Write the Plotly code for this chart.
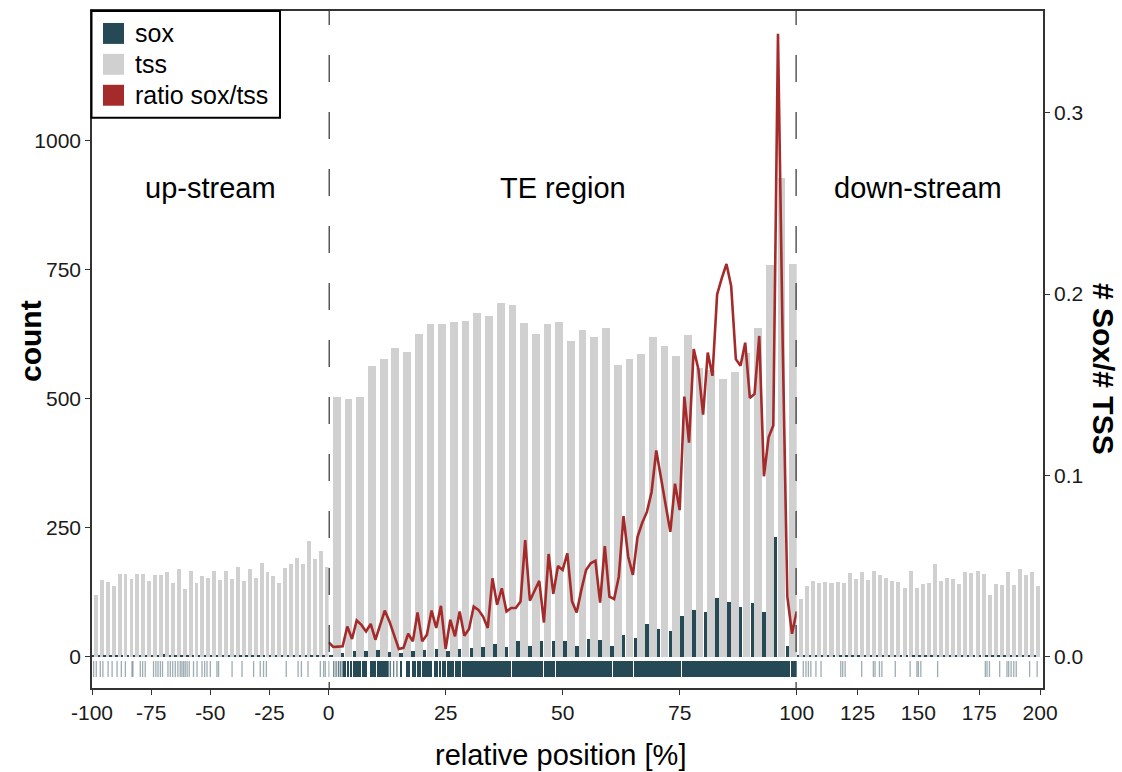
import plotly.graph_objects as go

# ---------------- data ----------------
bin_width = 2.5
up_start = [-100 + 2.5 * k for k in range(40)]
te_start = [0 + 2.5 * k for k in range(40)]
down_start = [100 + 2.5 * k for k in range(40)]

up_tss = [120, 149, 144, 136, 160, 161, 150, 160, 161, 147, 158, 158, 163, 142, 170, 131, 166, 142, 157, 152,
          166, 148, 165, 150, 173, 147, 169, 152, 182, 164, 157, 142, 171, 179, 192, 179, 224, 189, 205, 173]
up_sox = [2, 2, 3, 2, 2, 3, 2, 3, 2, 2, 3, 4, 5, 3, 4, 3, 3, 2, 3, 4,
          3, 4, 2, 2, 2, 2, 2, 2, 2, 2, 2, 2, 3, 2, 2, 2, 2, 2, 2, 3]

te_tss = [504, 499, 504, 564, 577, 598, 590, 625, 645, 644, 648, 651, 666, 660, 686, 681, 646, 625, 645, 648,
          611, 633, 620, 636, 566, 577, 587, 620, 601, 583, 623, 560, 555, 538, 551, 589, 637, 759, 927, 760]
te_sox = [4, 7, 10, 10, 13, 8, 7, 10, 13, 15, 10, 15, 17, 19, 25, 19, 30, 20, 31, 31,
          30, 21, 35, 32, 21, 41, 36, 64, 53, 49, 78, 91, 86, 113, 105, 96, 104, 86, 232, 20]

down_tss = [112, 137, 146, 142, 144, 143, 144, 143, 162, 151, 164, 149, 166, 158, 153, 146, 145, 133, 165, 132,
            140, 143, 179, 147, 153, 151, 140, 164, 162, 166, 160, 120, 140, 138, 164, 138, 169, 158, 163, 136]
down_sox = [3, 2, 2, 2, 2, 2, 3, 2, 2, 2, 3, 2, 3, 2, 2, 2, 2, 2, 3, 2,
            2, 2, 2, 2, 2, 2, 2, 2, 2, 3, 2, 2, 3, 2, 2, 2, 2, 2, 2, 2]

ratio_pos = list(range(0, 101))
ratio = [0.0079, 0.0053, 0.0055, 0.0057, 0.0166, 0.0097, 0.0199, 0.0175, 0.0139, 0.0180,
         0.0093, 0.0170, 0.0254, 0.0194, 0.0121, 0.0042, 0.0048, 0.0126, 0.0084, 0.0243,
         0.0084, 0.0121, 0.0254, 0.0158, 0.0280, 0.0042, 0.0203, 0.0112, 0.0249, 0.0115,
         0.0152, 0.0276, 0.0258, 0.0221, 0.0158, 0.0432, 0.0286, 0.0377, 0.0249, 0.0268,
         0.0268, 0.0304, 0.0643, 0.0308, 0.0363, 0.0418, 0.0188, 0.0566, 0.0346, 0.0500,
         0.0478, 0.0570, 0.0304, 0.0243, 0.0368, 0.0478, 0.0515, 0.0529, 0.0298, 0.0610,
         0.0331, 0.0317, 0.0441, 0.0775, 0.0551, 0.0451, 0.0661, 0.0738, 0.0798, 0.0908,
         0.1137, 0.0991, 0.0826, 0.0688, 0.0954, 0.0808, 0.1434, 0.1180, 0.1696, 0.1586,
         0.1335, 0.1677, 0.1549, 0.1998, 0.2088, 0.2166, 0.2044, 0.1641, 0.1604, 0.1732,
         0.1427, 0.1449, 0.1769, 0.0995, 0.1210, 0.1275, 0.3436, 0.1740, 0.0331, 0.0126,
         0.0249]

# rug (positions of individual sites, relative position %)
rug_up = [-99.3, -98.2, -96.5, -95.4, -93.2, -91.5, -89.4, -87.6, -85.9, -83.1, -82.7, -79.6, -78.6, -77.5,
          -74.0, -73.0, -72.1, -71.1, -70.2, -67.9, -66.9, -65.9, -64.8, -63.7, -62.7, -62.0, -61.3, -60.6,
          -59.8, -58.9, -57.1, -55.6, -53.5, -52.4, -51.4, -50.0, -47.2, -46.5, -40.8, -36.6, -31.7, -28.9,
          -27.5, -26.3, -17.9, -12.9, -11.5, -8.7, -3.5, -2.1, -1.4]
rug_down = [102.7, 103.8, 104.8, 105.8, 107.9, 110.0, 118.1, 118.9, 119.9, 126.7, 131.5, 132.2, 134.0, 135.0,
            140.5, 146.6, 149.4, 150.0, 151.0, 157.9, 177.5, 178.2, 179.2, 183.4, 186.4, 187.1, 188.1, 189.2,
            190.2, 195.7, 198.8]
rug_te_lines = [0.0, 1.1, 1.6, 2.1, 2.5, 2.9, 12.8, 13.2, 13.9, 14.6]
rug_te_block_start = [3.2, 3.9, 4.6, 5.2, 7.1, 8.9, 9.6, 10.3, 15.3, 16.4, 17.8, 18.9, 19.9, 22.4, 23.5, 24.2,
                      25.3, 27.0, 28.5, 39.0, 45.9, 48.4, 60.6, 65.1, 75.5, 98.7]
rug_te_block_end = [3.6, 4.3, 5.0, 6.8, 8.2, 9.3, 10.0, 12.5, 15.7, 17.4, 18.5, 19.6, 22.1, 23.2, 23.8, 24.9,
                    26.7, 28.1, 38.8, 45.7, 48.2, 60.4, 64.9, 75.3, 98.5, 100.0]

# ---------------- styling ----------------
SOX = "#264a55"
TSS = "#d0d0d0"
RED = "#a52a2a"
AX = "#333333"
FONT = "Liberation Sans, Arial, sans-serif"
RUG_TOP, RUG_BOTTOM = -8.7, -39.6
TICK_FONT = dict(size=21, color="#1a1a1a", family=FONT)

fig = go.Figure()


def add_region(starts, tss, sox, xa):
    fig.add_trace(go.Bar(x=[s + 0.67 * bin_width for s in starts], y=tss, width=0.66 * bin_width,
                         marker=dict(color=TSS, line=dict(width=0)), xaxis=xa, yaxis="y", name="tss"))
    fig.add_trace(go.Bar(x=[s + 0.17 * bin_width for s in starts], y=sox, width=0.30 * bin_width,
                         marker=dict(color=SOX, line=dict(width=0)), xaxis=xa, yaxis="y", name="sox"))


add_region(up_start, up_tss, up_sox, "x")
add_region(te_start, te_tss, te_sox, "x2")
add_region(down_start, down_tss, down_sox, "x3")


def rug_lines(pos, xa, color, width):
    xs, ys = [], []
    for p in pos:
        xs += [p, p, None]
        ys += [RUG_TOP, RUG_BOTTOM, None]
    fig.add_trace(go.Scatter(x=xs, y=ys, mode="lines", line=dict(color=color, width=width),
                             xaxis=xa, yaxis="y", hoverinfo="skip"))


rug_lines(rug_up, "x", "rgba(38,74,85,0.45)", 1.3)
rug_lines(rug_down, "x3", "rgba(38,74,85,0.45)", 1.3)
rug_lines(rug_te_lines, "x2", "rgba(38,74,85,0.7)", 1.3)
fig.add_trace(go.Bar(
    x=[(a + b) / 2 for a, b in zip(rug_te_block_start, rug_te_block_end)],
    y=[RUG_TOP - RUG_BOTTOM] * len(rug_te_block_start),
    base=RUG_BOTTOM,
    width=[b - a for a, b in zip(rug_te_block_start, rug_te_block_end)],
    marker=dict(color=SOX, line=dict(width=0)), xaxis="x2", yaxis="y"))

fig.add_trace(go.Scatter(x=ratio_pos, y=ratio, mode="lines", line=dict(color=RED, width=2.6),
                         xaxis="x2", yaxis="y2", name="ratio sox/tss"))

# ---------------- axes ----------------
d1 = 236.6 / 951
d2 = (796.7 - 92) / 951
common_x = dict(showline=True, linecolor=AX, linewidth=1.6, mirror=True, ticks="outside", ticklen=5,
                tickwidth=1.4, tickcolor=AX, showgrid=False, zeroline=False, anchor="y",
                tickfont=TICK_FONT)
fig.update_layout(
    xaxis=dict(domain=[0, d1], range=[-100, 0], tickvals=[-100, -75, -50, -25],
               ticktext=["-100", "-75", "-50", "-25"], **common_x),
    xaxis2=dict(domain=[d1, d2], range=[0, 100], tickvals=[0, 25, 50, 75, 100],
                ticktext=["0", "25", "50", "75", "100"], **common_x),
    xaxis3=dict(domain=[d2, 1], range=[100, 201.2], tickvals=[125, 150, 175, 200],
                ticktext=["125", "150", "175", "200"], **common_x),
    yaxis=dict(domain=[0, 1], range=[-60.9, 1251.2], tickvals=[0, 250, 500, 750, 1000],
               showline=True, linecolor=AX, linewidth=1.6, ticks="outside", ticklen=5, tickwidth=1.4,
               tickcolor=AX, showgrid=False, zeroline=False, anchor="x", tickfont=TICK_FONT),
    yaxis2=dict(overlaying="y", side="right", anchor="x3", range=[-0.01733, 0.35616],
                tickvals=[0, 0.1, 0.2, 0.3], ticktext=["0.0", "0.1", "0.2", "0.3"],
                showline=True, linecolor=AX, linewidth=1.6, ticks="outside", ticklen=5, tickwidth=1.4,
                tickcolor=AX, showgrid=False, zeroline=False, tickfont=TICK_FONT),
)

# dashed boundaries
dash = "14px,30px," + ",".join(["27px,30px"] * 12)
for xv in [0, 100]:
    fig.add_shape(type="line", xref="x2", yref="paper", x0=xv, x1=xv, y0=1, y1=0,
                  line=dict(color="#2e2e2e", width=2.4, dash=dash), layer="above")


# manual legend
def px_x(p):
    return (p - 92) / 951


def px_y(p):
    return (688 - p) / 679


fig.add_shape(type="rect", xref="paper", yref="paper", x0=px_x(91.5), x1=px_x(280), y0=px_y(116), y1=px_y(9),
              line=dict(color="black", width=2), fillcolor="white", layer="above")
leg = [("sox", SOX, 21), ("tss", TSS, 52), ("ratio sox/tss", RED, 83)]
for label, col, top in leg:
    fig.add_shape(type="rect", xref="paper", yref="paper", x0=px_x(103), x1=px_x(124),
                  y0=px_y(top + 21), y1=px_y(top), line=dict(width=0), fillcolor=col, layer="above")
    fig.add_annotation(xref="paper", yref="paper", x=px_x(133), y=px_y(top + 10.5), text=label,
                       showarrow=False, xanchor="left", yanchor="middle",
                       font=dict(size=25, color="black", family=FONT))

# region labels
for xa, xv, txt in [("x", -50, "up-stream"), ("x2", 50, "TE region"), ("x3", 150, "down-stream")]:
    fig.add_annotation(xref=xa, yref="paper", x=xv, y=px_y(187), text=txt, showarrow=False,
                       xanchor="center", yanchor="middle", font=dict(size=29, color="black", family=FONT))

# axis titles
fig.add_annotation(xref="paper", yref="paper", x=px_x(30), y=px_y(340), text="<b>count</b>", textangle=-90,
                   showarrow=False, xanchor="center", yanchor="middle",
                   font=dict(size=30, color="black", family=FONT))
fig.add_annotation(xref="paper", yref="paper", x=px_x(1103), y=px_y(368), text="<b># Sox/# TSS</b>",
                   textangle=90, showarrow=False, xanchor="center", yanchor="middle",
                   font=dict(size=30, color="black", family=FONT))
fig.add_annotation(xref="paper", yref="paper", x=px_x(560), y=px_y(755), text="relative position [%]",
                   showarrow=False, xanchor="center", yanchor="middle",
                   font=dict(size=29, color="black", family=FONT))

fig.update_layout(width=1122, height=772, margin=dict(l=92, r=79, t=9, b=84),
                  plot_bgcolor="white", paper_bgcolor="white", barmode="overlay", bargap=0,
                  showlegend=False, font=dict(family=FONT, color="black"))

fig.write_html("out.html", config={"displayModeBar": False},
               post_script="document.body.style.margin='0';")
